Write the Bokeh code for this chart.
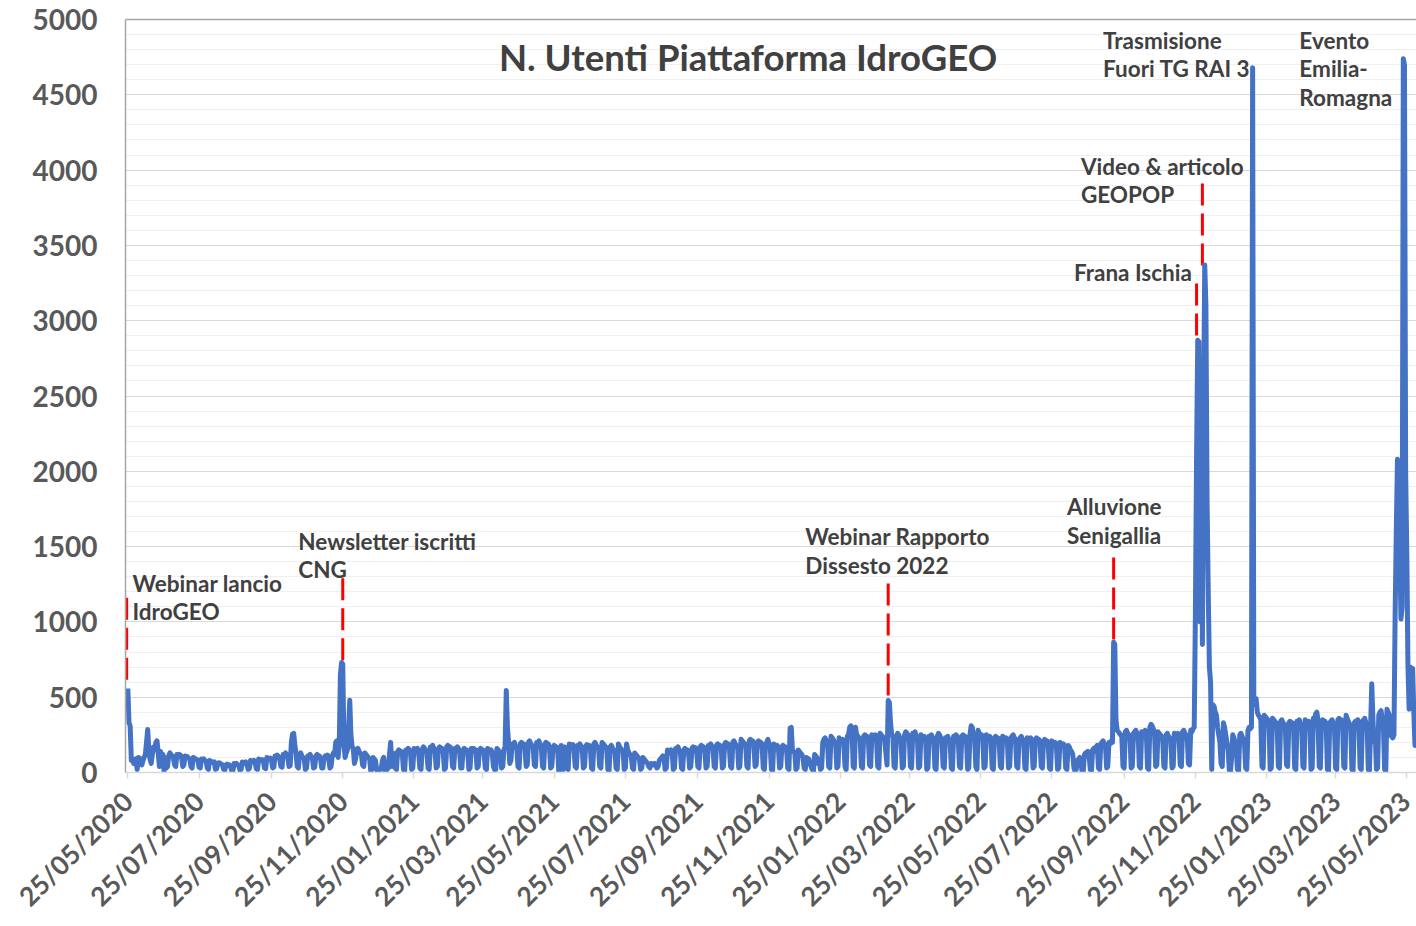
import pandas as pd
from bokeh.plotting import figure
from bokeh.models import (FixedTicker, SingleIntervalTicker, DatetimeTickFormatter,
                          LinearAxis, Range1d, ColumnDataSource, BasicTickFormatter)
from bokeh.core.properties import value
from bokeh.embed import file_html
from bokeh.resources import INLINE
import math

# ---------------- data ----------------
start_date = "2020-05-25"
# daily users, one row per week (Mon..Sun)
users = [
    558, 330, 310, 80, 90, 60, 75,
    90, 20, 100, 95, 70, 50, 80,
    100, 120, 200, 285, 150, 90, 60,
    120, 170, 150, 200, 210, 130, 40,
    140, 110, 120, 10, 100, 30, 40,
    110, 130, 120, 110, 100, 50, 40,
    120, 110, 120, 115, 100, 40, 50,
    110, 100, 105, 95, 90, 40, 30,
    100, 95, 90, 85, 80, 35, 30,
    90, 85, 90, 80, 75, 30, 20,
    80, 75, 70, 65, 70, 20, 25,
    60, 65, 60, 55, 50, 20, 15,
    50, 55, 45, 50, 40, 10, 15,
    60, 55, 60, 50, 45, 15, 20,
    70, 65, 60, 70, 55, 20, 25,
    80, 75, 70, 80, 65, 25, 20,
    90, 85, 80, 85, 75, 30, 25,
    100, 95, 90, 95, 80, 30, 35,
    110, 100, 115, 105, 90, 40, 35,
    120, 110, 130, 120, 100, 40, 45,
    200, 255, 260, 180, 130, 40, 30,
    120, 130, 110, 100, 90, 20, 30,
    110, 100, 120, 105, 95, 30, 35,
    110, 120, 100, 110, 90, 30, 30,
    100, 110, 105, 115, 90, 30, 40,
    110, 130, 120, 200, 210, 100, 180,
    650, 730, 720, 200, 100, 130, 150,
    300, 480, 250, 170, 160, 60, 90,
    150, 160, 140, 130, 120, 50, 40,
    130, 120, 110, 100, 90, 10, 20,
    100, 90, 80, 20, 0, 10, 20,
    30, 80, 100, 10, 60, 20, 30,
    120, 200, 40, 130, 120, 30, 20,
    140, 150, 130, 140, 120, 20, 10,
    150, 140, 160, 150, 130, 20, 30,
    160, 150, 140, 160, 130, 30, 20,
    150, 170, 160, 150, 140, 30, 20,
    170, 160, 180, 160, 140, 30, 40,
    160, 170, 150, 160, 140, 20, 30,
    170, 180, 160, 170, 150, 40, 30,
    160, 150, 170, 160, 140, 30, 30,
    150, 160, 140, 150, 130, 20, 30,
    160, 150, 160, 140, 150, 30, 40,
    150, 160, 140, 150, 130, 30, 20,
    160, 150, 140, 150, 130, 40, 20,
    20, 160, 150, 140, 130, 30, 40,
    150, 170, 545, 300, 200, 60, 80,
    190, 180, 200, 170, 160, 40, 30,
    190, 200, 180, 190, 170, 40, 50,
    200, 210, 190, 180, 170, 50, 40,
    200, 190, 210, 180, 170, 40, 30,
    190, 200, 180, 190, 160, 30, 40,
    170, 180, 160, 170, 150, 0, 10,
    180, 170, 20, 170, 160, 30, 20,
    190, 180, 170, 185, 160, 40, 30,
    180, 170, 190, 175, 160, 30, 40,
    175, 185, 170, 180, 160, 30, 20,
    190, 200, 180, 170, 160, 40, 30,
    200, 190, 180, 170, 160, 20, 10,
    170, 180, 160, 150, 140, 30, 20,
    190, 170, 160, 150, 140, 20, 30,
    190, 150, 130, 120, 110, 30, 20,
    130, 120, 110, 100, 90, 20, 30,
    100, 90, 80, 70, 60, 40, 30,
    60, 55, 50, 60, 50, 30, 40,
    80, 90, 100, 110, 100, 20, 30,
    150, 140, 130, 150, 140, 20, 30,
    160, 150, 170, 150, 140, 30, 20,
    150, 160, 140, 150, 130, 30, 40,
    160, 170, 150, 165, 140, 40, 30,
    170, 180, 160, 170, 150, 30, 40,
    180, 170, 190, 175, 160, 40, 30,
    180, 190, 170, 180, 165, 30, 40,
    190, 200, 180, 190, 170, 40, 30,
    200, 210, 190, 180, 175, 30, 40,
    220, 210, 200, 190, 180, 40, 30,
    210, 220, 200, 210, 190, 40, 50,
    200, 210, 190, 200, 180, 30, 20,
    190, 200, 220, 190, 170, 20, 10,
    190, 180, 170, 180, 160, 30, 40,
    170, 180, 160, 170, 150, 30, 20,
    295, 300, 150, 140, 130, 20, 30,
    150, 140, 130, 120, 100, 30, 20,
    100, 80, 90, 60, 40, 20, 10,
    120, 110, 100, 60, 80, 20, 30,
    200, 220, 230, 210, 200, 40, 30,
    240, 230, 220, 200, 190, 30, 40,
    230, 200, 210, 220, 200, 40, 20,
    240, 250, 300, 310, 290, 40, 30,
    300, 250, 240, 230, 220, 40, 30,
    240, 250, 230, 240, 220, 50, 40,
    250, 240, 230, 250, 220, 40, 30,
    260, 250, 240, 230, 220, 130, 50,
    478, 465, 330, 250, 240, 40, 30,
    240, 260, 250, 230, 220, 30, 40,
    250, 270, 260, 250, 240, 40, 30,
    260, 250, 270, 240, 230, 30, 40,
    250, 240, 230, 240, 220, 20, 30,
    240, 230, 250, 230, 210, 30, 20,
    240, 260, 250, 230, 220, 40, 30,
    230, 220, 240, 220, 210, 30, 20,
    240, 230, 250, 240, 220, 40, 30,
    240, 250, 230, 240, 220, 20, 30,
    250, 310, 300, 250, 230, 40, 20,
    280, 260, 240, 250, 230, 30, 40,
    250, 240, 230, 240, 220, 30, 20,
    230, 240, 220, 230, 210, 40, 30,
    240, 230, 220, 230, 210, 30, 40,
    230, 240, 250, 230, 220, 40, 30,
    220, 230, 240, 220, 210, 30, 20,
    230, 220, 210, 230, 200, 30, 40,
    220, 230, 210, 220, 200, 40, 30,
    210, 220, 200, 210, 190, 30, 20,
    210, 200, 190, 200, 180, 20, 30,
    200, 190, 180, 190, 170, 30, 20,
    180, 170, 150, 140, 120, 30, 10,
    20, 80, 90, 100, 80, 0, 10,
    120, 130, 110, 140, 120, 20, 10,
    150, 160, 140, 170, 180, 30, 20,
    190, 200, 210, 190, 180, 30, 40,
    200, 190, 210, 200, 865, 850, 350,
    280, 270, 260, 250, 240, 40, 30,
    270, 280, 260, 250, 240, 30, 40,
    260, 270, 280, 260, 250, 40, 30,
    270, 260, 250, 280, 260, 30, 20,
    300, 320, 310, 290, 270, 40, 50,
    270, 260, 250, 240, 230, 40, 30,
    250, 260, 240, 230, 220, 30, 40,
    260, 250, 240, 260, 230, 50, 40,
    270, 280, 260, 250, 240, 60, 50,
    280, 270, 290, 300, 1050, 2100, 2870,
    2860, 1000, 2500, 850, 2400, 3370, 3100,
    1800, 1200, 700, 600, 20, 450, 440,
    400, 380, 300, 250, 200, 60, 40,
    330, 300, 250, 200, 150, 20, 0,
    100, 250, 230, 200, 150, 20, 10,
    250, 260, 240, 220, 200, 30, 20,
    280, 300, 290, 300, 4680, 500, 450,
    490, 400, 380, 370, 350, 40, 30,
    380, 370, 360, 350, 340, 20, 30,
    360, 350, 340, 330, 320, 40, 30,
    340, 350, 330, 320, 310, 50, 40,
    330, 340, 320, 330, 310, 30, 20,
    340, 330, 350, 320, 310, 40, 30,
    350, 340, 330, 340, 320, 20, 30,
    360, 350, 390, 400, 350, 40, 30,
    340, 350, 330, 340, 320, 20, 10,
    330, 340, 350, 330, 320, 30, 20,
    350, 360, 340, 350, 330, 40, 30,
    380, 360, 340, 320, 310, 20, 10,
    330, 340, 320, 350, 330, 30, 20,
    340, 350, 360, 330, 320, 20, 10,
    300, 590, 350, 200, 250, 20, 30,
    380, 400, 410, 350, 300, 20, 10,
    420, 400, 380, 250, 240, 230, 250,
    1050, 1600, 2080, 2050, 1500, 1020, 1100,
    4740, 4700, 2000, 1450, 700, 420, 700,
    680, 690, 400, 180, 200,
]

tick_labels = [
    "25/05/2020", "25/07/2020", "25/09/2020", "25/11/2020",
    "25/01/2021", "25/03/2021", "25/05/2021", "25/07/2021",
    "25/09/2021", "25/11/2021", "25/01/2022", "25/03/2022",
    "25/05/2022", "25/07/2022", "25/09/2022", "25/11/2022",
    "25/01/2023", "25/03/2023", "25/05/2023",
]
y_ticks_step = 500

title_text = "N. Utenti Piattaforma IdroGEO"
title_date = "2021-11-07"
title_value = 4748

event_texts = [
    "Webinar lancio\nIdroGEO",
    "Newsletter iscritti\nCNG",
    "Webinar Rapporto\nDissesto 2022",
    "Alluvione\nSenigallia",
    "Frana Ischia",
    "Video & articolo\nGEOPOP",
    "Trasmisione\nFuori TG RAI 3",
    "Evento\nEmilia-\nRomagna",
]
event_text_dates = ["2020-05-29", "2020-10-18", "2021-12-26", "2022-08-07",
                    "2022-08-13", "2022-08-19", "2022-09-07", "2023-02-22"]
event_text_values = [1255, 1534, 1567, 1766, 3320, 4024, 4861, 4861]

marker_dates = ["2020-05-24", "2020-11-25", "2022-03-07", "2022-09-16",
                "2022-11-26", "2022-12-01"]
marker_top = [1160, 1290, 1255, 1428, 3247, 3911]
marker_bottom = [600, 730, 500, 877, 2869, 3353]

# ---------------- build ----------------
dates = pd.date_range(start_date, periods=len(users), freq="D")
src = ColumnDataSource(dict(x=dates, y=users))

def ms(ts):
    return (pd.Timestamp(ts) - pd.Timestamp("1970-01-01")) / pd.Timedelta(milliseconds=1)

tick_ms = [ms(pd.to_datetime(t, format="%d/%m/%Y")) for t in tick_labels]

FONT = "Lato"
x_start = pd.Timestamp(start_date) - pd.Timedelta(days=2)
x_end = pd.Timestamp(start_date) + pd.Timedelta(days=1103.3)

p = figure(width=1416, height=926, x_axis_type="datetime",
           x_range=Range1d(x_start, x_end), y_range=Range1d(0, 5000),
           output_backend="svg", toolbar_location=None,
           min_border_left=125, min_border_right=0, min_border_top=19,
           min_border_bottom=154)
p.outline_line_color = None
p.background_fill_color = "white"
p.border_fill_color = "white"

# y axis
p.yaxis.ticker = SingleIntervalTicker(interval=y_ticks_step, num_minor_ticks=5)
p.yaxis.formatter = BasicTickFormatter(use_scientific=False)
p.yaxis.axis_line_color = "#a6a6a6"
p.yaxis.axis_line_width = 1.5
p.yaxis.major_tick_line_color = None
p.yaxis.minor_tick_line_color = None
p.yaxis.major_label_standoff = 22
p.yaxis.major_label_text_font = FONT
p.yaxis.major_label_text_font_style = "bold"
p.yaxis.major_label_text_font_size = "28px"
p.yaxis.major_label_text_color = "#595959"

p.ygrid.grid_line_color = "#d9d9d9"
p.ygrid.minor_grid_line_color = "#f0f0f0"
p.xgrid.grid_line_color = None

# x axis
p.xaxis.ticker = FixedTicker(ticks=tick_ms)
fmt = "%d/%m/%Y"
p.xaxis.formatter = DatetimeTickFormatter(days=fmt, months=fmt, years=fmt,
                                          hours=fmt, minutes=fmt, seconds=fmt)
p.xaxis.axis_line_color = "#d9d9d9"
p.xaxis.axis_line_width = 1.5
p.xaxis.major_tick_line_color = "#d9d9d9"
p.xaxis.major_tick_line_width = 1.5
p.xaxis.major_tick_out = 6
p.xaxis.major_tick_in = 0
p.xaxis.minor_tick_line_color = None
p.xaxis.major_label_orientation = math.pi / 4
p.xaxis.major_label_standoff = 18
p.xaxis.major_label_text_font = FONT
p.xaxis.major_label_text_font_style = "bold"
p.xaxis.major_label_text_font_size = "26.5px"
p.xaxis.major_label_text_color = "#595959"

# top border line
top_axis = LinearAxis(ticker=FixedTicker(ticks=[]), axis_line_color="#a6a6a6",
                      axis_line_width=1.5, major_tick_line_color=None,
                      minor_tick_line_color=None, major_label_text_font_size="0px")
p.add_layout(top_axis, "above")

# event markers (red dashed)
msrc = ColumnDataSource(dict(x=pd.to_datetime(marker_dates), y0=marker_top, y1=marker_bottom))
p.segment(x0="x", y0="y0", x1="x", y1="y1", source=msrc, line_color="#ff0000",
          line_width=3, line_dash="22 8", line_cap="butt")

# main series
p.line("x", "y", source=src, line_color="#4472C4", line_width=5, line_join="round")

# annotations, one glyph row per text line
LINE_PX = 28.5
ax, ay, at, aoff = [], [], [], []
for t, d, v in zip(event_texts, event_text_dates, event_text_values):
    for i, line in enumerate(t.split("\n")):
        ax.append(pd.Timestamp(d)); ay.append(v); at.append(line); aoff.append(i * LINE_PX)
asrc = ColumnDataSource(dict(x=ax, y=ay, text=at, off=aoff))
p.text(x="x", y="y", text="text", y_offset="off", source=asrc,
       text_font=value(FONT), text_font_style="bold", text_font_size="22.5px",
       text_color="#404040", text_align="left", text_baseline="middle")

p.text(x=[pd.Timestamp(title_date)], y=[title_value], text=[title_text],
       text_font=value(FONT), text_font_style="bold", text_font_size="36.5px",
       text_color="#404040", text_align="center", text_baseline="middle")

open("out.html", "w").write(file_html(p, INLINE))
